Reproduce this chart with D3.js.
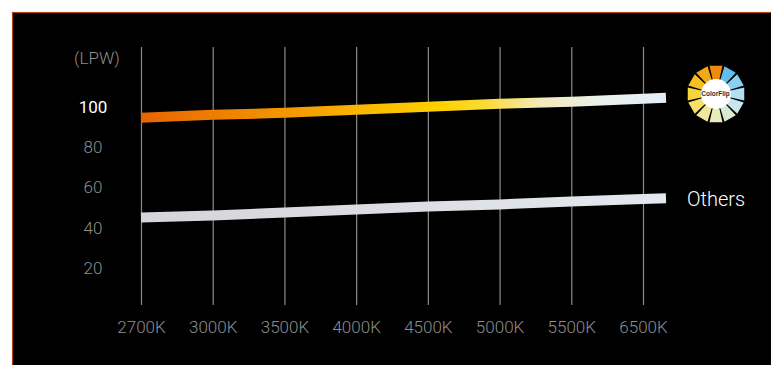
<!DOCTYPE html>
<html>
<head>
<meta charset="utf-8">
<script src="https://cdn.jsdelivr.net/npm/d3@7"></script>
<style>
  body { margin: 0; background: #fff; }
  svg { display: block; }
  text { font-family: Roboto, "Open Sans", "Liberation Sans", sans-serif; font-weight: 300; }
</style>
</head>
<body>
<div id="chart"></div>
<script>
// Data
var temps = ["2700K", "3000K", "3500K", "4000K", "4500K", "5000K", "5500K", "6500K"];
var colorflipLpw = [94.5, 96, 97, 98.5, 100, 101.5, 102.5, 104];
var othersLpw = [45, 46, 47.5, 49, 50.5, 51.5, 53, 54.2];
var yTicks = [20, 40, 60, 80, 100];
var wheelColors = ["#ef8a0c", "#62bdec", "#8dcff2", "#b3def3", "#c9e6ee", "#d8ead6",
                   "#e9ecb8", "#f1e79c", "#f5e16a", "#f7d53e", "#f6c020", "#f3a914"];

var svgWidth = 771;
var svgHeight = 365;

var svg = d3.select("#chart")
  .append("svg")
  .attr("width", svgWidth)
  .attr("height", svgHeight);

// black panel with orange edge
svg.append("rect")
  .attr("x", 12.5)
  .attr("y", 12.5)
  .attr("width", svgWidth)
  .attr("height", svgHeight)
  .attr("fill", "#000")
  .attr("stroke", "#b04618")
  .attr("stroke-width", 1.2);

var gridTop = 47;
var gridBottom = 305;

// scales
var x = d3.scalePoint()
  .domain(temps)
  .range([141, 643]);

var y = d3.scaleLinear()
  .domain([20, 100])
  .range([267.8, 106.8]);

// gridlines + x labels
var xAxis = d3.axisBottom(x)
  .tickSizeInner(-(gridBottom - gridTop))
  .tickSizeOuter(0)
  .tickPadding(16);

var gx = svg.append("g")
  .attr("transform", `translate(0, ${gridBottom})`)
  .call(xAxis);

gx.select(".domain").remove();
gx.selectAll(".tick line")
  .attr("stroke", "#8c8c8c")
  .attr("stroke-width", 1.2);
gx.selectAll(".tick text")
  .attr("fill", "#8e8e8e")
  .attr("font-size", "17px")
  .attr("font-family", null);

// y labels
svg.append("g")
  .selectAll("text")
  .data(yTicks)
  .enter()
  .append("text")
  .attr("x", 93)
  .attr("y", d => y(d))
  .attr("dy", "0.35em")
  .attr("text-anchor", "middle")
  .attr("font-size", "17px")
  .attr("fill", d => d === 100 ? "#ffffff" : "#8e8e8e")
  .style("font-weight", d => d === 100 ? 400 : 300)
  .text(d => d);

svg.append("text")
  .attr("x", 97)
  .attr("y", 58)
  .attr("dy", "0.35em")
  .attr("text-anchor", "middle")
  .attr("font-size", "17px")
  .attr("fill", "#8e8e8e")
  .text("(LPW)");

// gradients
var defs = svg.append("defs");

function addGradient(id, stops) {
  var g = defs.append("linearGradient")
    .attr("id", id)
    .attr("gradientUnits", "userSpaceOnUse")
    .attr("x1", x(temps[0]))
    .attr("x2", 666)
    .attr("y1", 0)
    .attr("y2", 0);
  g.selectAll("stop")
    .data(stops)
    .enter()
    .append("stop")
    .attr("offset", d => d[0])
    .attr("stop-color", d => d[1]);
}

addGradient("warmGrad", [
  [0, "#e86400"], [0.28, "#f49800"], [0.45, "#fbbc00"], [0.58, "#ffd200"],
  [0.66, "#f9dc3a"], [0.76, "#f4eab8"], [0.88, "#eaf1ee"], [1, "#e2eef9"]
]);
addGradient("coolGrad", [
  [0, "#d4d5d9"], [0.5, "#dcdee3"], [1, "#e4e8ee"]
]);

// lines, last segment runs on past the 6500K gridline
var overhang = 23;
function bandPoints(values) {
  var pts = values.map((v, i) => [x(temps[i]), y(v)]);
  var a = pts[pts.length - 2], b = pts[pts.length - 1];
  var slope = (b[1] - a[1]) / (b[0] - a[0]);
  pts.push([b[0] + overhang, b[1] + slope * overhang]);
  return pts;
}

var line = d3.line();

svg.append("path")
  .attr("d", line(bandPoints(colorflipLpw)))
  .attr("fill", "none")
  .attr("stroke", "url(#warmGrad)")
  .attr("stroke-width", 10);

svg.append("path")
  .attr("d", line(bandPoints(othersLpw)))
  .attr("fill", "none")
  .attr("stroke", "url(#coolGrad)")
  .attr("stroke-width", 10);

// "Others" label
svg.append("text")
  .attr("x", 687)
  .attr("y", 199)
  .attr("dy", "0.35em")
  .attr("font-size", "20px")
  .attr("fill", "#ffffff")
  .text("Others");

// ColorFlip wheel logo
var logo = svg.append("g")
  .attr("transform", "translate(716, 94)");

var n = wheelColors.length;
var rIn = 13, rOut = 29;
var half = Math.PI / n - 0.035;

logo.selectAll("polygon")
  .data(wheelColors)
  .enter()
  .append("polygon")
  .attr("points", function(d, i) {
    var a = -Math.PI / 2 + i * 2 * Math.PI / n;
    var p = [
      [Math.cos(a - half) * rIn, Math.sin(a - half) * rIn],
      [Math.cos(a - half) * rOut, Math.sin(a - half) * rOut],
      [Math.cos(a + half) * rOut, Math.sin(a + half) * rOut],
      [Math.cos(a + half) * rIn, Math.sin(a + half) * rIn]
    ];
    return p.map(q => q.join(",")).join(" ");
  })
  .attr("fill", d => d);

logo.append("circle")
  .attr("r", 15)
  .attr("fill", "#ffffff");

logo.append("text")
  .attr("x", -0.5)
  .attr("y", 0)
  .attr("dy", "0.35em")
  .attr("text-anchor", "middle")
  .attr("font-size", "6.5px")
  .style("font-weight", 700)
  .style("font-family", "'Liberation Sans Narrow', 'Liberation Sans', sans-serif")
  .attr("fill", "#2a2f3a")
  .text("ColorFlip");

logo.append("text")
  .attr("x", 12)
  .attr("y", -2.5)
  .attr("font-size", "2.5px")
  .attr("fill", "#2a2f3a")
  .text("™");
</script>
</body>
</html>
